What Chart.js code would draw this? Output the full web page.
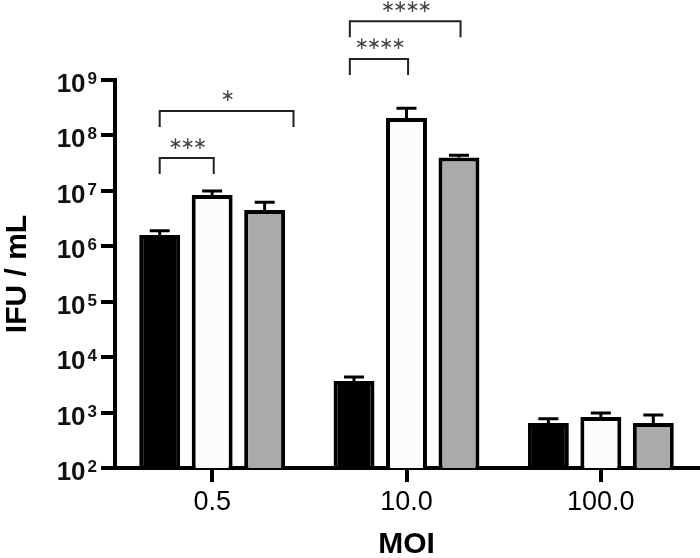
<!DOCTYPE html>
<html>
<head>
<meta charset="utf-8">
<script src="https://cdn.jsdelivr.net/npm/chart.js@4.4.1/dist/chart.umd.min.js"></script>
<style>
  body { margin: 0; background: #fff; }
</style>
</head>
<body>
<canvas id="moiChart" width="700" height="558"></canvas>
<script>
// Categorias (MOI)
const moiLabels = ['0.5', '10.0', '100.0'];

// Médias por série (IFU / mL)
const serieBlack = [1.6e6, 3.7e3, 6.5e2];
const serieWhite = [8.4e6, 2.06e8, 8.3e2];
const serieGray = [4.5e6, 4.0e7, 6.5e2];

// Topo da barra de erro (média + desvio)
const errBlack = [1.9e6, 4.4e3, 7.7e2];
const errWhite = [9.9e6, 3.1e8, 9.8e2];
const errGray = [6.2e6, 4.4e7, 9.0e2];

// Expoentes dos ticks do eixo y
const yExponents = [2, 3, 4, 5, 6, 7, 8, 9];

// Comparações: grupo, posição inicial/final (em barras), altura do colchete, texto
const sigGroup = [0, 0, 1, 1];
const sigFrom = [0, 0, -0.08, -0.08];
const sigTo = [1.03, 2.55, 1.03, 2.03];
const sigLevel = [3.9e7, 2.75e8, 2.4e9, 1.15e10];
const sigText = ['***', '*', '****', '****'];

const errTops = [errBlack, errWhite, errGray];

Chart.defaults.font.family = '"Liberation Sans", Arial, sans-serif';
Chart.defaults.color = '#000';

// Barras de erro (só para cima)
const errorBarsPlugin = {
  id: 'errorBars',
  afterDatasetsDraw(chart) {
    const ctx = chart.ctx;
    const yScale = chart.scales.y;
    ctx.save();
    ctx.strokeStyle = '#000';
    ctx.lineWidth = 3;
    chart.data.datasets.forEach((ds, i) => {
      const meta = chart.getDatasetMeta(i);
      meta.data.forEach((bar, j) => {
        const top = yScale.getPixelForValue(errTops[i][j]);
        ctx.beginPath();
        ctx.moveTo(bar.x, bar.y);
        ctx.lineTo(bar.x, top);
        ctx.moveTo(bar.x - 10, top);
        ctx.lineTo(bar.x + 10, top);
        ctx.stroke();
      });
    });
    ctx.restore();
  }
};

// Rótulos 10^n do eixo y
const powerLabelsPlugin = {
  id: 'powerLabels',
  afterDraw(chart) {
    const ctx = chart.ctx;
    const yScale = chart.scales.y;
    const right = yScale.right - 18;
    ctx.save();
    ctx.fillStyle = '#111';
    ctx.textAlign = 'right';
    ctx.textBaseline = 'alphabetic';
    yExponents.forEach(e => {
      const y = yScale.getPixelForValue(Math.pow(10, e));
      ctx.font = 'bold 17px "Liberation Sans"';
      const w = ctx.measureText(String(e)).width;
      ctx.fillText(String(e), right, y + 4);
      ctx.font = 'bold 26px "Liberation Sans"';
      ctx.fillText('10', right - w - 2, y + 12);
    });
    ctx.restore();
  }
};

// Colchetes de significância
const significancePlugin = {
  id: 'significance',
  afterDraw(chart) {
    const ctx = chart.ctx;
    const yScale = chart.scales.y;
    const m0 = chart.getDatasetMeta(0);
    const m1 = chart.getDatasetMeta(1);
    ctx.save();
    ctx.strokeStyle = '#222';
    ctx.lineWidth = 2;
    ctx.fillStyle = '#444';
    ctx.font = '17px "DejaVu Sans"';
    ctx.textAlign = 'center';
    ctx.textBaseline = 'middle';
    ctx.letterSpacing = '-2px';
    sigGroup.forEach((g, k) => {
      const c0 = m0.data[g].x;
      const step = m1.data[g].x - c0;
      const x1 = c0 + sigFrom[k] * step;
      const x2 = c0 + sigTo[k] * step;
      const y = yScale.getPixelForValue(sigLevel[k]);
      ctx.beginPath();
      ctx.moveTo(x1, y + 16);
      ctx.lineTo(x1, y);
      ctx.lineTo(x2, y);
      ctx.lineTo(x2, y + 16);
      ctx.stroke();
      ctx.fillText(sigText[k].replace(/\*/g, '∗'), (x1 + x2) / 2, y - 14);
    });
    ctx.restore();
  }
};

const ctx = document.getElementById('moiChart').getContext('2d');
new Chart(ctx, {
  type: 'bar',
  data: {
    labels: moiLabels,
    datasets: [
      { label: 'A', data: serieBlack, backgroundColor: '#000', borderColor: '#000', borderWidth: 4 },
      { label: 'B', data: serieWhite, backgroundColor: '#fcfcfc', borderColor: '#000', borderWidth: 4 },
      { label: 'C', data: serieGray, backgroundColor: '#aaaaaa', borderColor: '#000', borderWidth: 4 }
    ]
  },
  options: {
    responsive: false,
    animation: false,
    layout: { padding: { top: 80, right: 2, left: 0, bottom: 0 } },
    datasets: {
      bar: { categoryPercentage: 0.81, barPercentage: 0.78 }
    },
    plugins: {
      legend: { display: false },
      tooltip: { enabled: false }
    },
    scales: {
      x: {
        border: { display: true, color: '#000', width: 4 },
        grid: { offset: false, drawOnChartArea: false, drawTicks: true, tickLength: 14, lineWidth: 4, color: '#000' },
        ticks: { font: { size: 27 }, padding: 4, color: '#000' },
        title: { display: true, text: 'MOI', font: { size: 30, weight: 'bold', lineHeight: 0.9 }, padding: { top: 0, bottom: 0 } },
        afterFit(scale) { scale.height = 90; }
      },
      y: {
        type: 'logarithmic',
        min: 1e2,
        max: 1e9,
        border: { display: true, color: '#000', width: 4 },
        grid: { drawOnChartArea: false, drawTicks: true, tickLength: 14, lineWidth: 4, color: '#000' },
        ticks: { display: false },
        afterBuildTicks(scale) {
          scale.ticks = yExponents.map(e => ({ value: Math.pow(10, e) }));
        },
        title: { display: true, text: 'IFU / mL', font: { size: 30, weight: 'bold' }, padding: { top: 0, bottom: 0 } },
        afterFit(scale) { scale.width = 115; }
      }
    }
  },
  plugins: [errorBarsPlugin, significancePlugin, powerLabelsPlugin]
});
</script>
</body>
</html>
